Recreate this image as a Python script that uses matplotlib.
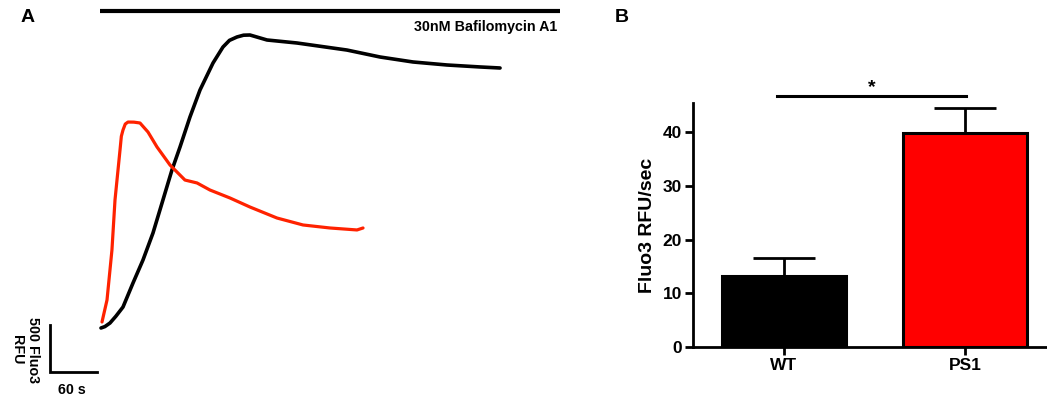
import numpy as np
import matplotlib
matplotlib.use('Agg')
from matplotlib import pyplot as plt

plt.rcParams['font.family'] = ['Liberation Sans', 'DejaVu Sans']
plt.rcParams['font.weight'] = 'bold'

# panel A traces: time (s), Fluo3 RFU above baseline
wt_t = [0, 5, 11.5, 19, 28.1, 40.9, 53.6, 66.4, 79.1, 90.6, 100.9, 113.6, 126.4, 143, 155.7,
        164, 173.6, 182, 190.2, 211.9, 250.2, 314, 356.2, 398.3, 441.7, 483.8, 509.4]
wt_rfu = [0, 15, 53, 125, 223, 479, 723, 1011, 1362, 1681, 1926, 2245, 2532, 2819, 2989,
          3060, 3096, 3115, 3117, 3064, 3032, 2957, 2883, 2830, 2798, 2777, 2766]
ps1_t = [1.3, 7.7, 14, 17.9, 24.3, 26, 28.1, 31, 34.5, 42, 49.8, 60, 71.5, 88.1, 107.2, 122.6,
         139.1, 164.7, 190.2, 224.7, 257.9, 292.3, 326.8, 334.5]
ps1_rfu = [64, 298, 830, 1362, 1894, 2040, 2106, 2170, 2191, 2190, 2181, 2085, 1926, 1734, 1574, 1543,
           1468, 1383, 1287, 1170, 1096, 1064, 1043, 1064]

# panel B
groups = ['WT', 'PS1']
rates = [13.2, 39.8]
sem = [3.3, 4.6]
bar_colors = ['#000000', '#ff0000']

fig = plt.figure(figsize=(10.47, 3.98), dpi=100)

# ---- A ----
axA = fig.add_axes([0, 0, 600 / 1047, 1])
axA.set_xlim(-128.9, 637)
axA.set_ylim(-744.7, 3489.4)
axA.axis('off')
axA.plot(wt_t, wt_rfu, color='black', lw=2.6, solid_capstyle='round', solid_joinstyle='round')
axA.plot(ps1_t, ps1_rfu, color='#ff2200', lw=2.3, solid_capstyle='round', solid_joinstyle='round')
# treatment bar
axA.plot([-1.3, 586], [3372, 3372], color='black', lw=3, solid_capstyle='butt')
axA.text(582, 3200, '30nM Bafilomycin A1', ha='right', va='center', fontsize=10.3, fontweight='bold')
# scale bar 60 s / 500 RFU
axA.plot([-65, -65, -5], [32, -468, -468], color='black', lw=2, solid_joinstyle='miter')
axA.text(-97, -230, '500 Fluo3\nRFU', rotation=-90, ha='center', va='center',
         fontsize=10.3, fontweight='bold', linespacing=1.25)
axA.text(-37, -660, '60 s', ha='center', va='center', fontsize=10.3, fontweight='bold')
fig.text(28 / 1047, 1 - 18 / 398, 'A', ha='center', va='center', fontsize=14, fontweight='bold')

# ---- B ----
axB = fig.add_axes([693 / 1047, 1 - 347 / 398, (1047 - 693) / 1047, (347 - 103) / 398])
x = np.arange(len(groups))
axB.bar(x, rates, width=0.685, color=bar_colors, edgecolor='black', linewidth=2.2, zorder=2)
axB.errorbar(x, rates, yerr=[[0, 0], sem], fmt='none', ecolor='black', elinewidth=2,
             capsize=22, capthick=2, zorder=1)
axB.set_xlim(-0.503, 1.453)
axB.set_ylim(0, 45.4)
axB.set_yticks([0, 10, 20, 30, 40])
axB.set_xticks(x)
axB.set_xticklabels(groups)
for s in ['top', 'right']:
    axB.spines[s].set_visible(False)
for s in ['left', 'bottom']:
    axB.spines[s].set_linewidth(2)
axB.tick_params(width=2, length=6, labelsize=12.5, pad=2)
for lab in axB.get_xticklabels() + axB.get_yticklabels():
    lab.set_fontweight('bold')
axB.set_ylabel('Fluo3 RFU/sec', fontsize=14, fontweight='bold', labelpad=5)
axB.plot([-0.04, 1.006], [46.7, 46.7], color='black', lw=2.2, clip_on=False)
axB.text(0.486, 48.3, '*', ha='center', va='center', fontsize=14, fontweight='bold')
fig.text(622 / 1047, 1 - 18 / 398, 'B', ha='center', va='center', fontsize=14, fontweight='bold')

fig.savefig('out.png', dpi=100)
